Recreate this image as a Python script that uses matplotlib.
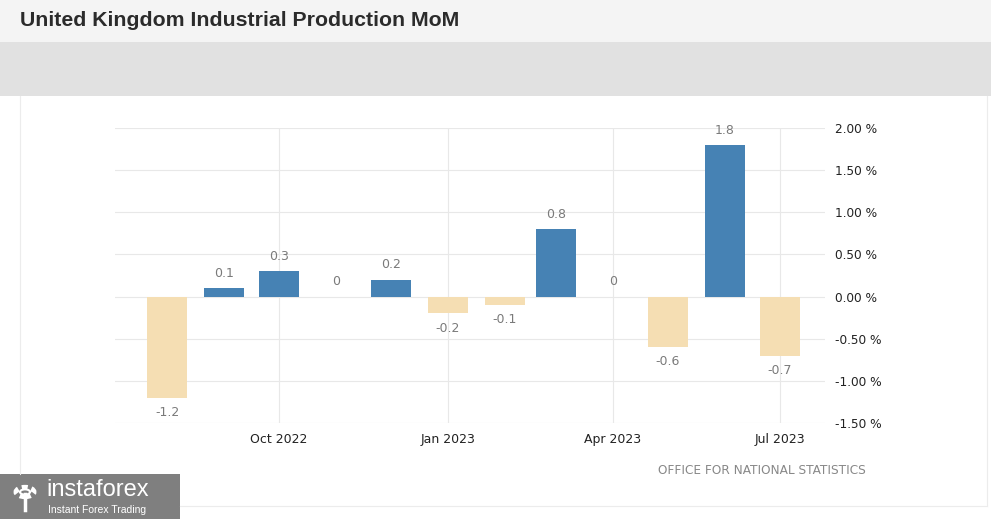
import matplotlib
matplotlib.use("Agg")
import matplotlib.pyplot as plt
from matplotlib.patches import Rectangle, Circle
import matplotlib.dates as mdates
import pandas as pd

months = ["Aug 2022", "Sep 2022", "Oct 2022", "Nov 2022", "Dec 2022", "Jan 2023",
          "Feb 2023", "Mar 2023", "Apr 2023", "May 2023", "Jun 2023", "Jul 2023"]
values = [-1.2, 0.1, 0.3, 0.0, 0.2, -0.2, -0.1, 0.8, 0.0, -0.6, 1.8, -0.7]
tick_labels = ["Oct 2022", "Jan 2023", "Apr 2023", "Jul 2023"]
y_ticks = [2.0, 1.5, 1.0, 0.5, 0.0, -0.5, -1.0, -1.5]

W, H = 991, 519
fig = plt.figure(figsize=(W / 100, H / 100), dpi=100)
fig.patch.set_facecolor("white")

def fx(px):
    return px / W

def fy(py):
    return 1 - py / H

# header bands
fig.add_artist(Rectangle((0, fy(42)), 1, 42 / H, transform=fig.transFigure,
                         facecolor="#f4f4f4", edgecolor="none", zorder=0))
fig.add_artist(Rectangle((0, fy(96)), 1, 54 / H, transform=fig.transFigure,
                         facecolor="#e1e1e1", edgecolor="none", zorder=0))
fig.text(fx(20), fy(20), "United Kingdom Industrial Production MoM",
         fontsize=15.3, fontweight="bold", color="#2b2b2b",
         family="Liberation Sans", va="center", ha="left")

# faint frame lines
fig.add_artist(plt.Line2D([fx(20), fx(20)], [fy(96), fy(474)], transform=fig.transFigure,
                          color="#ececec", lw=0.8))
fig.add_artist(plt.Line2D([fx(987), fx(987)], [fy(96), fy(506)], transform=fig.transFigure,
                          color="#ececec", lw=0.8))
fig.add_artist(plt.Line2D([fx(180), fx(987)], [fy(506), fy(506)], transform=fig.transFigure,
                          color="#ececec", lw=0.8))

ax_left, ax_right, ax_top, ax_bottom = 115, 825, 128, 423
ax = fig.add_axes([fx(ax_left), fy(ax_bottom), (ax_right - ax_left) / W, (ax_bottom - ax_top) / H])
ax.set_facecolor("white")
for s in ax.spines.values():
    s.set_visible(False)

dates = pd.to_datetime(months, format="%b %Y")
colors = ["#4682b4" if v > 0 else "#f5deb3" for v in values]
ax.bar(dates, values, width=21.8, color=colors, zorder=3)

for d, v in zip(dates, values):
    if v < 0:
        ax.annotate(f"{v:g}", (d, v), xytext=(0, -6), textcoords="offset points",
                    ha="center", va="top", fontsize=9, color="#7a7a7a")
    else:
        ax.annotate(f"{v:g}", (d, v), xytext=(0, 6), textcoords="offset points",
                    ha="center", va="bottom", fontsize=9, color="#7a7a7a")

px_per_day = (780 - 167) / (dates[-1] - dates[0]).days
left = dates[0] - pd.Timedelta(days=(167 - ax_left) / px_per_day)
right = dates[0] + pd.Timedelta(days=(ax_right - 167) / px_per_day)
ax.set_xlim(left, right)
ax.set_ylim(-1.5, 2.0)
ax.set_yticks(y_ticks)
ax.set_yticklabels([f"{t:.2f} %" for t in y_ticks])
ax.yaxis.tick_right()
ax.tick_params(axis="y", length=0, pad=7, labelsize=8.7, labelcolor="#222222")
tick_dates = pd.to_datetime(tick_labels, format="%b %Y")
ax.set_xticks(tick_dates)
ax.set_xticklabels(tick_labels)
ax.tick_params(axis="x", length=0, pad=7, labelsize=9, labelcolor="#222222")
for lbl in ax.get_yticklabels():
    lbl.set_horizontalalignment("left")
ax.grid(True, color="#e8e8e8", lw=0.8, zorder=0)
ax.set_axisbelow(True)

fig.text(fx(866), fy(470), "OFFICE FOR NATIONAL STATISTICS", fontsize=8.7,
         color="#888888", ha="right", va="center")

# logo block
fig.add_artist(Rectangle((0, 0), fx(180), 45 / H, transform=fig.transFigure,
                         facecolor="#7f7f7f", edgecolor="none"))
fig.add_artist(Circle((fx(25), fy(492)), 9 / W, transform=fig.transFigure,
                      facecolor="none", edgecolor="white", lw=3.5, linestyle=(0, (1.2, 0.8))))
fig.add_artist(Circle((fx(25), fy(492)), 5 / W, transform=fig.transFigure,
                      facecolor="none", edgecolor="white", lw=1.5))
fig.add_artist(plt.Line2D([fx(25), fx(25)], [fy(494), fy(510)], transform=fig.transFigure,
                          color="white", lw=2.5))
fig.text(fx(46), fy(490), "instaforex", fontsize=17, color="white",
         ha="left", va="center", family="Liberation Sans")
fig.text(fx(48), fy(510), "Instant Forex Trading", fontsize=7.5, color="white",
         ha="left", va="center", family="Liberation Sans")

fig.savefig("out.png", dpi=100)
